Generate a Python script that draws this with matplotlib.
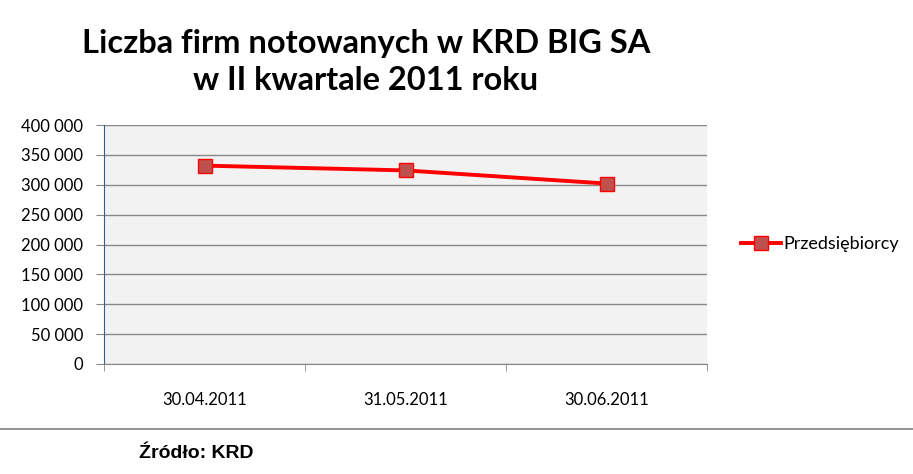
import numpy as np
import matplotlib
matplotlib.use("Agg")
import matplotlib.pyplot as plt
from matplotlib.ticker import FuncFormatter, FixedLocator

# Dane
daty = ["30.04.2011", "31.05.2011", "30.06.2011"]
przedsiebiorcy = [332000, 324000, 302000]
seria = "Przedsiębiorcy"

tytul = "Liczba firm notowanych w KRD BIG SA\nw II kwartale 2011 roku"
zrodlo = "Źródło: KRD"

fig = plt.figure(figsize=(9.13, 4.74), dpi=100)
ax = fig.add_axes([104/913, 1 - 364/474, (707 - 104)/913, (364 - 125)/474])

x = np.arange(len(daty))
ax.plot(x, przedsiebiorcy, color="#FF0000", lw=2.8, marker="s", ms=10,
        mfc="#C0504D", mec="#FF0000", mew=1.0, label=seria, zorder=3)

ax.set_facecolor("#F2F2F2")
ax.set_xlim(-0.5, len(daty) - 0.5)
ax.set_ylim(0, 400000)
ax.set_yticks(np.arange(0, 400001, 50000))
ax.yaxis.set_major_formatter(FuncFormatter(lambda v, p: f"{int(v):,}".replace(",", " ")))
ax.grid(axis="y", color="#878787", lw=1.0)
ax.set_axisbelow(True)

ax.set_xticks(x)
ax.set_xticklabels(daty)
ax.xaxis.set_minor_locator(FixedLocator(np.arange(-0.5, len(daty), 1.0)))
ax.tick_params(axis="x", which="major", length=0, pad=20, labelsize=12)
ax.tick_params(axis="x", which="minor", length=5, color="#878787")
ax.tick_params(axis="y", length=6, color="#878787", labelsize=12, pad=9)
for lab in ax.get_xticklabels() + ax.get_yticklabels():
    lab.set_fontfamily("Lato")

for s in ["top", "right"]:
    ax.spines[s].set_visible(False)
ax.spines["left"].set_color("#385D8A")
ax.spines["bottom"].set_color("#878787")

leg = ax.legend(loc="center left", bbox_to_anchor=(1.045, 0.5), frameon=False,
                prop={"family": "Lato", "size": 13}, handlelength=2.2,
                handletextpad=0.1, borderaxespad=0)

fig.text(366/913, 1 - 62/474, tytul, ha="center", va="center",
         fontsize=23.5, fontweight="bold", family="Lato", linespacing=1.3)

fig.add_artist(plt.Line2D([0, 1], [1 - 429/474, 1 - 429/474],
                          transform=fig.transFigure, color="#808080", lw=1.2))
fig.text(139/913, 1 - 454/474, zrodlo, ha="left", va="center",
         fontsize=14, fontweight="bold",
         family=["Liberation Sans Narrow", "Liberation Sans"])

fig.savefig("out.png", dpi=100)
